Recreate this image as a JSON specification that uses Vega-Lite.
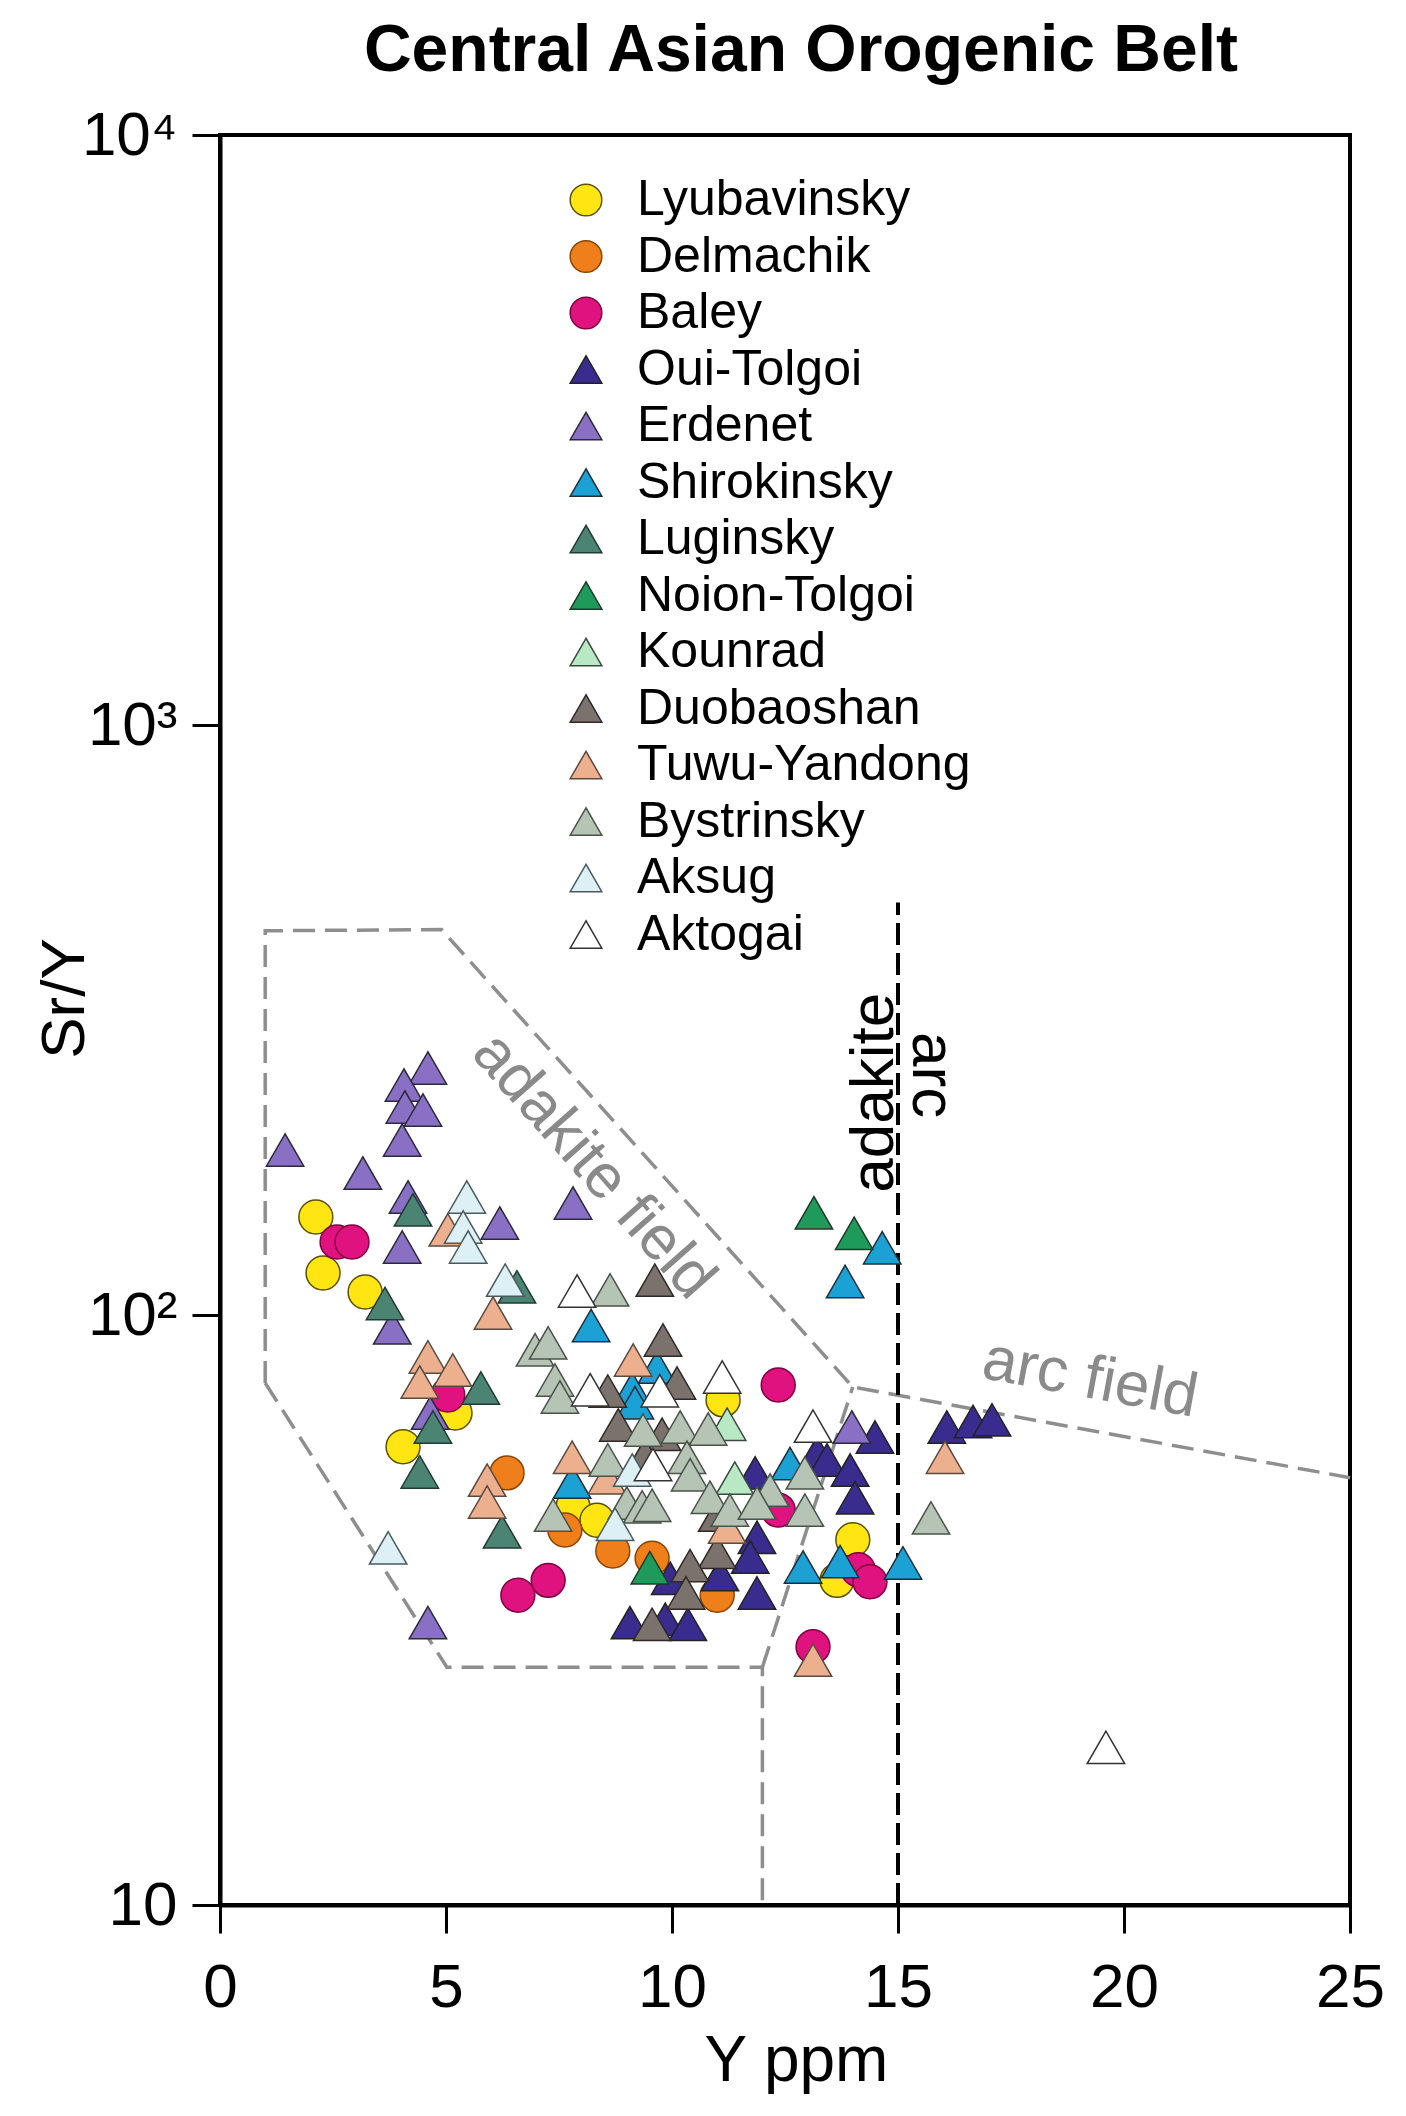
{
  "$schema": "https://vega.github.io/schema/vega-lite/v6.json",
  "width": 1130,
  "height": 1770,
  "autosize": {"type": "none"},
  "padding": {"left": 220, "top": 135, "right": 56, "bottom": 211},
  "background": "white",
  "title": {"text": "Central Asian Orogenic Belt", "fontSize": 66, "fontWeight": "bold", "font": "Liberation Sans", "color": "black", "anchor": "middle", "frame": "group", "baseline": "alphabetic", "offset": -33, "dx": 16},
  "config": {"view": {"stroke": "black", "strokeWidth": 4}, "font": "Liberation Sans"},
  "datasets": {
    "pts": [
      {"deposit": "Lyubavinsky", "Y": 2.12, "SrY": 146.6},
      {"deposit": "Lyubavinsky", "Y": 2.28, "SrY": 117.8},
      {"deposit": "Lyubavinsky", "Y": 3.21, "SrY": 109.4},
      {"deposit": "Lyubavinsky", "Y": 5.2, "SrY": 68.2},
      {"deposit": "Lyubavinsky", "Y": 4.05, "SrY": 59.8},
      {"deposit": "Lyubavinsky", "Y": 7.81, "SrY": 47.3},
      {"deposit": "Lyubavinsky", "Y": 8.34, "SrY": 44.9},
      {"deposit": "Lyubavinsky", "Y": 11.13, "SrY": 71.8},
      {"deposit": "Lyubavinsky", "Y": 14.0, "SrY": 41.6},
      {"deposit": "Lyubavinsky", "Y": 13.65, "SrY": 35.5},
      {"deposit": "Delmachik", "Y": 6.35, "SrY": 54.0},
      {"deposit": "Delmachik", "Y": 7.63, "SrY": 43.2},
      {"deposit": "Delmachik", "Y": 8.69, "SrY": 39.8},
      {"deposit": "Delmachik", "Y": 9.56, "SrY": 38.7},
      {"deposit": "Delmachik", "Y": 11.0, "SrY": 33.5},
      {"deposit": "Baley", "Y": 2.59, "SrY": 133},
      {"deposit": "Baley", "Y": 2.92, "SrY": 133},
      {"deposit": "Baley", "Y": 5.04, "SrY": 73.2},
      {"deposit": "Baley", "Y": 6.59, "SrY": 33.5},
      {"deposit": "Baley", "Y": 7.26, "SrY": 35.5},
      {"deposit": "Baley", "Y": 12.35, "SrY": 76.1},
      {"deposit": "Baley", "Y": 12.35, "SrY": 46.7},
      {"deposit": "Baley", "Y": 14.12, "SrY": 37.0},
      {"deposit": "Baley", "Y": 14.38, "SrY": 35.3},
      {"deposit": "Baley", "Y": 13.12, "SrY": 27.4},
      {"deposit": "Oui-Tolgoi", "Y": 11.88, "SrY": 33.8},
      {"deposit": "Oui-Tolgoi", "Y": 11.88, "SrY": 42.0},
      {"deposit": "Oui-Tolgoi", "Y": 11.73, "SrY": 38.9},
      {"deposit": "Oui-Tolgoi", "Y": 11.84, "SrY": 54.0},
      {"deposit": "Oui-Tolgoi", "Y": 13.21, "SrY": 58.4},
      {"deposit": "Oui-Tolgoi", "Y": 13.43, "SrY": 56.8},
      {"deposit": "Oui-Tolgoi", "Y": 13.94, "SrY": 54.6},
      {"deposit": "Oui-Tolgoi", "Y": 14.05, "SrY": 49.0},
      {"deposit": "Oui-Tolgoi", "Y": 14.49, "SrY": 62.1},
      {"deposit": "Oui-Tolgoi", "Y": 16.08, "SrY": 64.6},
      {"deposit": "Oui-Tolgoi", "Y": 16.66, "SrY": 66.0},
      {"deposit": "Oui-Tolgoi", "Y": 17.08, "SrY": 66.4},
      {"deposit": "Oui-Tolgoi", "Y": 9.96, "SrY": 35.8},
      {"deposit": "Oui-Tolgoi", "Y": 11.06, "SrY": 36.3},
      {"deposit": "Oui-Tolgoi", "Y": 9.07, "SrY": 30.1},
      {"deposit": "Oui-Tolgoi", "Y": 9.85, "SrY": 30.5},
      {"deposit": "Oui-Tolgoi", "Y": 10.35, "SrY": 29.9},
      {"deposit": "Erdenet", "Y": 1.44, "SrY": 190.4},
      {"deposit": "Erdenet", "Y": 3.16, "SrY": 174.0},
      {"deposit": "Erdenet", "Y": 4.6, "SrY": 262.2},
      {"deposit": "Erdenet", "Y": 4.07, "SrY": 245.4},
      {"deposit": "Erdenet", "Y": 4.09, "SrY": 225.2},
      {"deposit": "Erdenet", "Y": 4.49, "SrY": 222.6},
      {"deposit": "Erdenet", "Y": 4.03, "SrY": 198.0},
      {"deposit": "Erdenet", "Y": 4.16, "SrY": 158.5},
      {"deposit": "Erdenet", "Y": 4.03, "SrY": 130.4},
      {"deposit": "Erdenet", "Y": 6.19, "SrY": 143.2},
      {"deposit": "Erdenet", "Y": 7.81, "SrY": 154.8},
      {"deposit": "Erdenet", "Y": 3.81, "SrY": 95.1},
      {"deposit": "Erdenet", "Y": 4.65, "SrY": 68.2},
      {"deposit": "Erdenet", "Y": 4.6, "SrY": 30.1},
      {"deposit": "Erdenet", "Y": 13.98, "SrY": 64.6},
      {"deposit": "Shirokinsky", "Y": 14.65, "SrY": 130},
      {"deposit": "Shirokinsky", "Y": 13.83, "SrY": 114},
      {"deposit": "Shirokinsky", "Y": 8.21, "SrY": 96},
      {"deposit": "Shirokinsky", "Y": 9.12, "SrY": 75},
      {"deposit": "Shirokinsky", "Y": 9.18, "SrY": 71},
      {"deposit": "Shirokinsky", "Y": 9.67, "SrY": 81.6},
      {"deposit": "Shirokinsky", "Y": 7.79, "SrY": 52.1},
      {"deposit": "Shirokinsky", "Y": 12.61, "SrY": 56},
      {"deposit": "Shirokinsky", "Y": 12.9, "SrY": 37.4},
      {"deposit": "Shirokinsky", "Y": 13.72, "SrY": 38.2},
      {"deposit": "Shirokinsky", "Y": 15.11, "SrY": 38.0},
      {"deposit": "Luginsky", "Y": 4.27, "SrY": 150.7},
      {"deposit": "Luginsky", "Y": 6.57, "SrY": 111.6},
      {"deposit": "Luginsky", "Y": 3.65, "SrY": 104.6},
      {"deposit": "Luginsky", "Y": 4.71, "SrY": 64.6},
      {"deposit": "Luginsky", "Y": 4.42, "SrY": 54.2},
      {"deposit": "Luginsky", "Y": 5.77, "SrY": 75.2},
      {"deposit": "Luginsky", "Y": 6.24, "SrY": 42.9},
      {"deposit": "Noion-Tolgoi", "Y": 13.14, "SrY": 149},
      {"deposit": "Noion-Tolgoi", "Y": 14.03, "SrY": 137.6},
      {"deposit": "Noion-Tolgoi", "Y": 9.51, "SrY": 37.3},
      {"deposit": "Kounrad", "Y": 11.22, "SrY": 65.3},
      {"deposit": "Kounrad", "Y": 11.39, "SrY": 52.9},
      {"deposit": "Duobaoshan", "Y": 9.62, "SrY": 114.6},
      {"deposit": "Duobaoshan", "Y": 9.8, "SrY": 90.7},
      {"deposit": "Duobaoshan", "Y": 8.58, "SrY": 74.3},
      {"deposit": "Duobaoshan", "Y": 10.11, "SrY": 76.7},
      {"deposit": "Duobaoshan", "Y": 8.81, "SrY": 65.1},
      {"deposit": "Duobaoshan", "Y": 11.0, "SrY": 45.8},
      {"deposit": "Duobaoshan", "Y": 11.0, "SrY": 39.6},
      {"deposit": "Duobaoshan", "Y": 10.4, "SrY": 37.6},
      {"deposit": "Duobaoshan", "Y": 10.31, "SrY": 33.8},
      {"deposit": "Duobaoshan", "Y": 9.56, "SrY": 29.9},
      {"deposit": "Duobaoshan", "Y": 9.78, "SrY": 62.8},
      {"deposit": "Duobaoshan", "Y": 9.4, "SrY": 57.9},
      {"deposit": "Tuwu-Yandong", "Y": 5.04, "SrY": 139.4},
      {"deposit": "Tuwu-Yandong", "Y": 6.04, "SrY": 100.8},
      {"deposit": "Tuwu-Yandong", "Y": 4.6, "SrY": 84.9},
      {"deposit": "Tuwu-Yandong", "Y": 5.15, "SrY": 80.7},
      {"deposit": "Tuwu-Yandong", "Y": 4.42, "SrY": 77.0},
      {"deposit": "Tuwu-Yandong", "Y": 5.91, "SrY": 52.5},
      {"deposit": "Tuwu-Yandong", "Y": 5.91, "SrY": 48.2},
      {"deposit": "Tuwu-Yandong", "Y": 7.79, "SrY": 57.4},
      {"deposit": "Tuwu-Yandong", "Y": 9.14, "SrY": 83.9},
      {"deposit": "Tuwu-Yandong", "Y": 11.22, "SrY": 43.7},
      {"deposit": "Tuwu-Yandong", "Y": 16.04, "SrY": 57.4},
      {"deposit": "Tuwu-Yandong", "Y": 13.12, "SrY": 26.0},
      {"deposit": "Tuwu-Yandong", "Y": 8.56, "SrY": 53.0},
      {"deposit": "Bystrinsky", "Y": 6.97, "SrY": 87.3},
      {"deposit": "Bystrinsky", "Y": 7.26, "SrY": 89.7},
      {"deposit": "Bystrinsky", "Y": 7.41, "SrY": 77.6},
      {"deposit": "Bystrinsky", "Y": 7.52, "SrY": 72.6},
      {"deposit": "Bystrinsky", "Y": 8.63, "SrY": 110.3},
      {"deposit": "Bystrinsky", "Y": 7.37, "SrY": 45.8},
      {"deposit": "Bystrinsky", "Y": 8.58, "SrY": 56.8},
      {"deposit": "Bystrinsky", "Y": 9.36, "SrY": 63.8},
      {"deposit": "Bystrinsky", "Y": 10.18, "SrY": 64.6},
      {"deposit": "Bystrinsky", "Y": 10.8, "SrY": 64.1},
      {"deposit": "Bystrinsky", "Y": 10.33, "SrY": 57.4},
      {"deposit": "Bystrinsky", "Y": 10.4, "SrY": 53.6},
      {"deposit": "Bystrinsky", "Y": 10.84, "SrY": 49.1},
      {"deposit": "Bystrinsky", "Y": 12.17, "SrY": 50.5},
      {"deposit": "Bystrinsky", "Y": 12.94, "SrY": 54.0},
      {"deposit": "Bystrinsky", "Y": 9.0, "SrY": 48.0},
      {"deposit": "Bystrinsky", "Y": 9.34, "SrY": 47.3},
      {"deposit": "Bystrinsky", "Y": 9.56, "SrY": 47.6},
      {"deposit": "Bystrinsky", "Y": 11.28, "SrY": 46.7},
      {"deposit": "Bystrinsky", "Y": 11.88, "SrY": 48.0},
      {"deposit": "Bystrinsky", "Y": 12.94, "SrY": 46.7},
      {"deposit": "Bystrinsky", "Y": 15.73, "SrY": 45.3},
      {"deposit": "Aksug", "Y": 5.46, "SrY": 158.5},
      {"deposit": "Aksug", "Y": 5.38, "SrY": 141.0},
      {"deposit": "Aksug", "Y": 5.49, "SrY": 130.4},
      {"deposit": "Aksug", "Y": 6.31, "SrY": 114.6},
      {"deposit": "Aksug", "Y": 3.72, "SrY": 40.3},
      {"deposit": "Aksug", "Y": 9.12, "SrY": 54.6},
      {"deposit": "Aksug", "Y": 8.74, "SrY": 44.2},
      {"deposit": "Aktogai", "Y": 7.9, "SrY": 109.8},
      {"deposit": "Aktogai", "Y": 8.19, "SrY": 74.7},
      {"deposit": "Aktogai", "Y": 9.73, "SrY": 74.4},
      {"deposit": "Aktogai", "Y": 11.11, "SrY": 78.5},
      {"deposit": "Aktogai", "Y": 13.12, "SrY": 64.8},
      {"deposit": "Aktogai", "Y": 9.58, "SrY": 55.8},
      {"deposit": "Aktogai", "Y": 19.6, "SrY": 18.5}
    ],
    "fields": [
      {"line": "a", "order": 1, "Y": 1.0, "SrY": 76.7},
      {"line": "a", "order": 2, "Y": 1.0, "SrY": 448},
      {"line": "a", "order": 3, "Y": 4.9, "SrY": 450},
      {"line": "a", "order": 4, "Y": 14.0, "SrY": 75.5},
      {"line": "a", "order": 5, "Y": 25.0, "SrY": 53},
      {"line": "b", "order": 1, "Y": 1.0, "SrY": 76.7},
      {"line": "b", "order": 2, "Y": 5.02, "SrY": 25.3},
      {"line": "b", "order": 3, "Y": 12.0, "SrY": 25.3},
      {"line": "b", "order": 4, "Y": 12.0, "SrY": 10},
      {"line": "c", "order": 1, "Y": 12.0, "SrY": 25.3},
      {"line": "c", "order": 2, "Y": 14.0, "SrY": 75.5}
    ],
    "divider": [
      {"Y": 15, "SrY": 10},
      {"Y": 15, "SrY": 500}
    ],
    "labels": [
      {"label": "adakite field", "Y": 8.27, "SrY": 179},
      {"label": "arc field", "Y": 19.25, "SrY": 78},
      {"label": "adakite", "Y": 14.47, "SrY": 238},
      {"label": "arc", "Y": 15.75, "SrY": 255}
    ]
  },
  "encoding": {
    "x": {
      "field": "Y", "type": "quantitative",
      "scale": {"domain": [0, 25], "nice": false, "zero": false},
      "axis": {
        "title": "Y ppm", "titleFontSize": 64, "titleFontWeight": "normal", "titleColor": "black", "titleFont": "Liberation Sans",
        "titleX": 576, "titleY": 175, "titleBaseline": "alphabetic", "titleAlign": "center",
        "values": [0, 5, 10, 15, 20, 25], "labelFontSize": 62, "labelColor": "black", "labelFont": "Liberation Sans",
        "labelBaseline": "alphabetic", "labelPadding": 73, "labelFlush": false, "labelOverlap": false,
        "domainColor": "black", "domainWidth": 4, "tickColor": "black", "tickWidth": 3, "tickSize": 28, "grid": false
      }
    },
    "y": {
      "field": "SrY", "type": "quantitative",
      "scale": {"type": "log", "domain": [10, 10000], "nice": false},
      "axis": {
        "title": "Sr/Y", "titleFontSize": 62, "titleFontWeight": "normal", "titleColor": "black", "titleFont": "Liberation Sans",
        "titleX": -137, "titleY": 863, "titleBaseline": "alphabetic", "titleAlign": "center", "titleAngle": 270,
        "values": [10, 100, 1000, 10000],
        "labelExpr": "datum.value == 10 ? '10' : datum.value == 100 ? '10²' : datum.value == 1000 ? '10³' : '10⁴'",
        "labelFontSize": 62, "labelColor": "black", "labelFont": "Liberation Sans", "labelPadding": 15, "labelFlush": false, "labelOverlap": false, "labelBaseline": "middle",
        "domainColor": "black", "domainWidth": 4, "tickColor": "black", "tickWidth": 3, "tickSize": 28, "grid": false
      }
    }
  },
  "layer": [
    {
      "data": {"name": "fields"},
      "mark": {"type": "line", "color": "#8e8e8e", "strokeWidth": 3.5, "strokeDash": [22, 10]},
      "encoding": {"detail": {"field": "line"}, "order": {"field": "order", "type": "quantitative"}}
    },
    {
      "data": {"name": "divider"},
      "mark": {"type": "line", "color": "black", "strokeWidth": 4, "strokeDash": [22, 8]},
      "encoding": {}
    },
    {
      "data": {"name": "labels"},
      "transform": [{"filter": "datum.label == 'adakite field'"}],
      "mark": {"type": "text", "angle": 48.5, "fontSize": 62, "color": "#8a8a8a", "align": "center", "baseline": "middle", "font": "Liberation Sans"},
      "encoding": {"text": {"field": "label"}}
    },
    {
      "data": {"name": "labels"},
      "transform": [{"filter": "datum.label == 'arc field'"}],
      "mark": {"type": "text", "angle": 10.5, "fontSize": 62, "color": "#8a8a8a", "align": "center", "baseline": "middle", "font": "Liberation Sans"},
      "encoding": {"text": {"field": "label"}}
    },
    {
      "data": {"name": "labels"},
      "transform": [{"filter": "datum.label == 'adakite'"}],
      "mark": {"type": "text", "angle": 270, "fontSize": 62, "color": "black", "align": "center", "baseline": "middle", "font": "Liberation Sans"},
      "encoding": {"text": {"field": "label"}}
    },
    {
      "data": {"name": "labels"},
      "transform": [{"filter": "datum.label == 'arc'"}],
      "mark": {"type": "text", "angle": 90, "fontSize": 62, "color": "black", "align": "center", "baseline": "middle", "font": "Liberation Sans"},
      "encoding": {"text": {"field": "label"}}
    },
    {
      "data": {"name": "pts"},
      "transform": [{"filter": "datum.deposit == 'Lyubavinsky' || datum.deposit == 'Delmachik' || datum.deposit == 'Baley'"}],
      "mark": {"type": "point", "filled": true, "size": 1150, "strokeWidth": 1.5, "opacity": 1},
      "encoding": {
        "fill": {
          "field": "deposit", "type": "nominal",
          "scale": {
            "domain": ["Lyubavinsky", "Delmachik", "Baley", "Oui-Tolgoi", "Erdenet", "Shirokinsky", "Luginsky", "Noion-Tolgoi", "Kounrad", "Duobaoshan", "Tuwu-Yandong", "Bystrinsky", "Aksug", "Aktogai"],
            "range": ["#FFE512", "#EE7F1A", "#E0127F", "#3A2C8E", "#8A70C4", "#1BA1D4", "#4C8474", "#1E9A5A", "#B9E8C4", "#7B716D", "#EDB08F", "#B5C4B4", "#DCF0F6", "#FFFFFF"]
          },
          "legend": {
            "orient": "none", "legendX": 341, "legendY": 40, "title": null, "padding": 0,
            "labelFontSize": 50, "labelFont": "Liberation Sans", "labelColor": "black", "labelOffset": 26,
            "symbolSize": 1000, "symbolStrokeWidth": 1.5, "rowPadding": 6.5, "labelLimit": 600
          }
        },
        "shape": {
          "field": "deposit", "type": "nominal",
          "scale": {
            "domain": ["Lyubavinsky", "Delmachik", "Baley", "Oui-Tolgoi", "Erdenet", "Shirokinsky", "Luginsky", "Noion-Tolgoi", "Kounrad", "Duobaoshan", "Tuwu-Yandong", "Bystrinsky", "Aksug", "Aktogai"],
            "range": ["circle", "circle", "circle", "triangle-up", "triangle-up", "triangle-up", "triangle-up", "triangle-up", "triangle-up", "triangle-up", "triangle-up", "triangle-up", "triangle-up", "triangle-up"]
          }
        },
        "stroke": {
          "field": "deposit", "type": "nominal",
          "scale": {
            "domain": ["Lyubavinsky", "Delmachik", "Baley", "Oui-Tolgoi", "Erdenet", "Shirokinsky", "Luginsky", "Noion-Tolgoi", "Kounrad", "Duobaoshan", "Tuwu-Yandong", "Bystrinsky", "Aksug", "Aktogai"],
            "range": ["#5a5200", "#8a4500", "#80003f", "#222222", "#2a2a3a", "#1f2f3a", "#223a32", "#1f3a2a", "#3a4a40", "#2f2a28", "#5a4a40", "#4a524a", "#4a5a5e", "#333333"]
          }
        }
      }
    },
    {
      "data": {"name": "pts"},
      "transform": [{"filter": "datum.deposit != 'Lyubavinsky' && datum.deposit != 'Delmachik' && datum.deposit != 'Baley'"}],
      "mark": {"type": "point", "filled": true, "size": 1400, "strokeWidth": 1.5, "opacity": 1},
      "encoding": {
        "fill": {"field": "deposit", "type": "nominal"},
        "shape": {"field": "deposit", "type": "nominal"},
        "stroke": {"field": "deposit", "type": "nominal"}
      }
    }
  ]
}
